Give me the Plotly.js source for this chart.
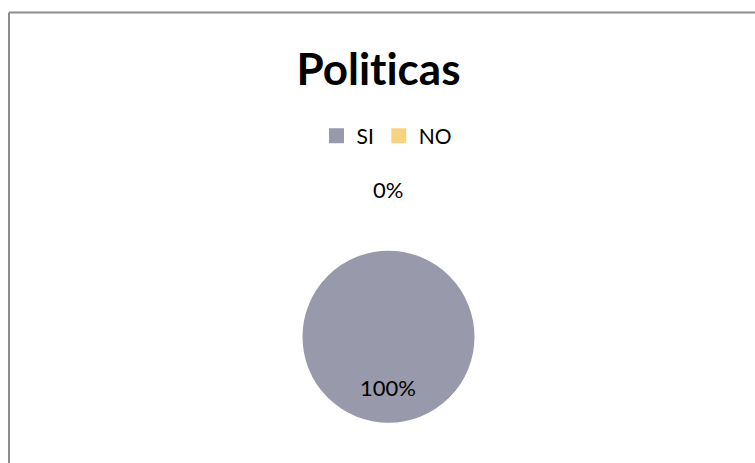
<!DOCTYPE html>
<html>
<head>
<meta charset="utf-8">
<script src="https://cdn.plot.ly/plotly-3.0.1.min.js"></script>
<style>
html,body{margin:0;padding:0;background:#fff;}
#chart{width:755px;height:463px;}
#chart text{font-variant-ligatures:none;font-feature-settings:"liga" 0;}
</style>
</head>
<body>
<div id="chart"></div>
<script>
// Data listed in drawing order; the legend is reversed so it reads "SI, NO".
const categories = ["NO", "SI"];
const values = [0, 100];
const colors = ["#F7D283", "#9999AC"];
const chartTitle = "Politicas";

const total = values.reduce((a, b) => a + b, 0);
const pct = values.map(v => Math.round(v / total * 100) + "%");
const idxNO = categories.indexOf("NO");
const idxSI = categories.indexOf("SI");

const W = 755, H = 463;
const cx = 388.5, cy = 336.8, r = 84.5;

const trace = {
  type: "pie",
  labels: categories,
  values: values,
  sort: false,
  direction: "counterclockwise",
  rotation: 0,
  marker: {colors: colors, line: {width: 3, color: colors}},
  textinfo: "none",
  hoverinfo: "label+percent",
  domain: {
    x: [(cx - r) / W, (cx + r) / W],
    y: [(H - cy - r) / H, (H - cy + r) / H]
  },
  showlegend: true
};

const font = "Lato, 'Open Sans', 'Liberation Sans', sans-serif";

const layout = {
  width: W, height: H,
  margin: {l: 0, r: 0, t: 0, b: 0},
  paper_bgcolor: "#ffffff",
  plot_bgcolor: "#ffffff",
  title: {
    text: "<b>" + chartTitle + "</b>",
    font: {family: font, size: 44, color: "#000000"},
    x: 378.5 / W, xanchor: "center", xref: "paper",
    y: 1 - 70 / H, yanchor: "middle", yref: "container"
  },
  legend: {
    orientation: "h",
    x: 387 / W, xanchor: "center",
    y: 1 - 136 / H, yanchor: "middle",
    font: {family: font, size: 21, color: "#000000"},
    itemwidth: 30,
    traceorder: "reversed"
  },
  annotations: [
    {
      text: pct[idxNO], x: 388 / W, y: 1 - 189 / H, xref: "paper", yref: "paper",
      showarrow: false, xanchor: "center", yanchor: "middle",
      font: {family: font, size: 22, color: "#000000"}
    },
    {
      text: pct[idxSI], x: 388 / W, y: 1 - 387 / H, xref: "paper", yref: "paper",
      showarrow: false, xanchor: "center", yanchor: "middle",
      font: {family: font, size: 22, color: "#000000"}
    }
  ],
  shapes: [
    {type: "line", xref: "paper", yref: "paper", x0: 9 / W, x1: 1, y0: 1 - 12.5 / H, y1: 1 - 12.5 / H,
     line: {color: "#8c8c8c", width: 2}},
    {type: "line", xref: "paper", yref: "paper", x0: 9 / W, x1: 9 / W, y0: 0, y1: 1 - 12.5 / H,
     line: {color: "#8c8c8c", width: 2}}
  ]
};

Plotly.newPlot("chart", [trace], layout, {displayModeBar: false, staticPlot: true});
</script>
</body>
</html>
